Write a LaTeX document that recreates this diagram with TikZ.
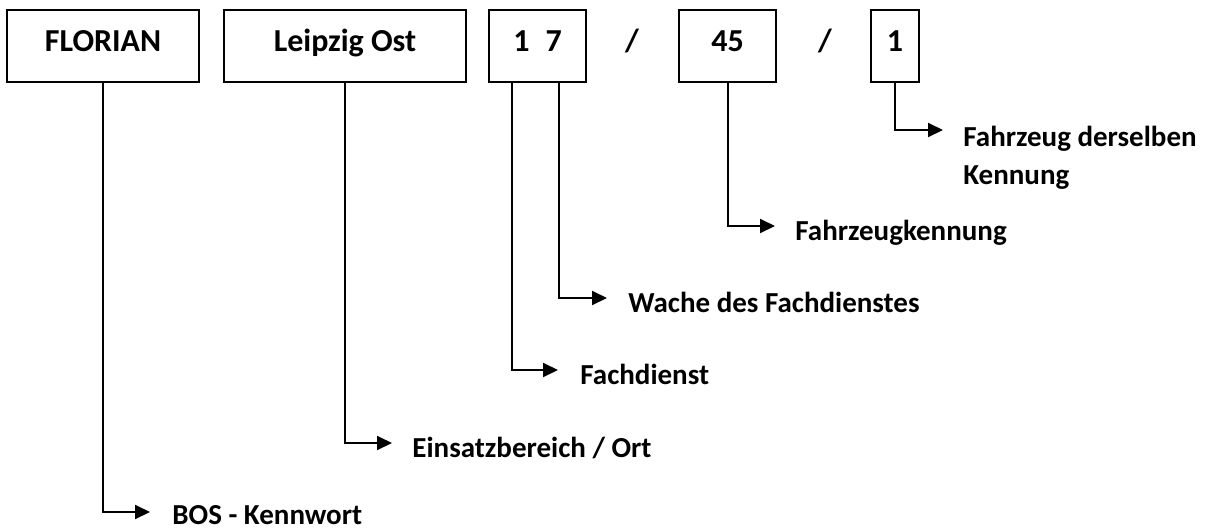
\documentclass[tikz,border=0pt]{standalone}
\usepackage{fontspec}
\setmainfont{Carlito}
\usetikzlibrary{arrows.meta,calc,positioning}

\tikzset{
	feld/.style={draw, line width=0.7pt, inner sep=0pt, minimum height=36pt,
		font=\fontsize{16}{19}\selectfont\bfseries, text height=0.7em, text depth=0.2em},
	strich/.style={inner sep=0pt, font=\fontsize{16}{19}\selectfont\bfseries,
		text height=0.7em, text depth=0.2em},
	verweis/.style={line width=1pt, -{Triangle[length=7.5pt,width=7pt]}},
	erkl/.style={anchor=base west, align=left, inner sep=0pt,
		font=\fontsize{14.5}{19}\selectfont\bfseries},
}

\begin{document}
\begin{tikzpicture}[x=0.5pt,y=-0.5pt]
	\useasboundingbox (0,0) rectangle (1206,530);
	
	% Funkrufname
	\node[feld, minimum width=96pt] (florian) at (103,46) {FLORIAN};
	\node[feld, minimum width=121pt] (ort) at (345,46) {Leipzig Ost};
	\node[feld, minimum width=48.5pt] (dienst) at (537.5,46) {1\hspace{0.5em}7};
	\node[strich] (s1) at (632,46) {/};
	\node[feld, minimum width=48.5pt] (kenn) at (727.5,46) {45};
	\node[strich] (s2) at (825,46) {/};
	\node[feld, minimum width=24pt] (nr) at (895,46) {1};
	
	\coordinate (d1) at ($(dienst.south west)!0.24!(dienst.south east)$);
	\coordinate (d2) at ($(dienst.south west)!0.72!(dienst.south east)$);
	
	\coordinate (p1) at (150,512);
	\coordinate (p2) at (392,443);
	\coordinate (p3) at (558,370);
	\coordinate (p4) at (607,298);
	\coordinate (p5) at (775,226);
	\coordinate (p6) at (943,130);
	
	\node[erkl] (l1) at ([shift={(22,12)}]p1) {BOS - Kennwort};
	\node[erkl] (l2) at ([shift={(20,14)}]p2) {Einsatzbereich / Ort};
	\node[erkl] (l3) at ([shift={(22,14)}]p3) {Fachdienst};
	\node[erkl] (l4) at ([shift={(21,14)}]p4) {Wache des Fachdienstes};
	\node[erkl] (l5) at ([shift={(20,14)}]p5) {Fahrzeugkennung};
	\node[erkl] (l6) at ([shift={(20,54)}]p6) {Fahrzeug derselben\\Kennung};
	
	\draw[verweis] (florian) |- (p1);
	\draw[verweis] (ort) |- (p2);
	\draw[verweis] (d1) |- (p3);
	\draw[verweis] (d2) |- (p4);
	\draw[verweis] (kenn) |- (p5);
	\draw[verweis] (nr) |- (p6);
\end{tikzpicture}
\end{document}
